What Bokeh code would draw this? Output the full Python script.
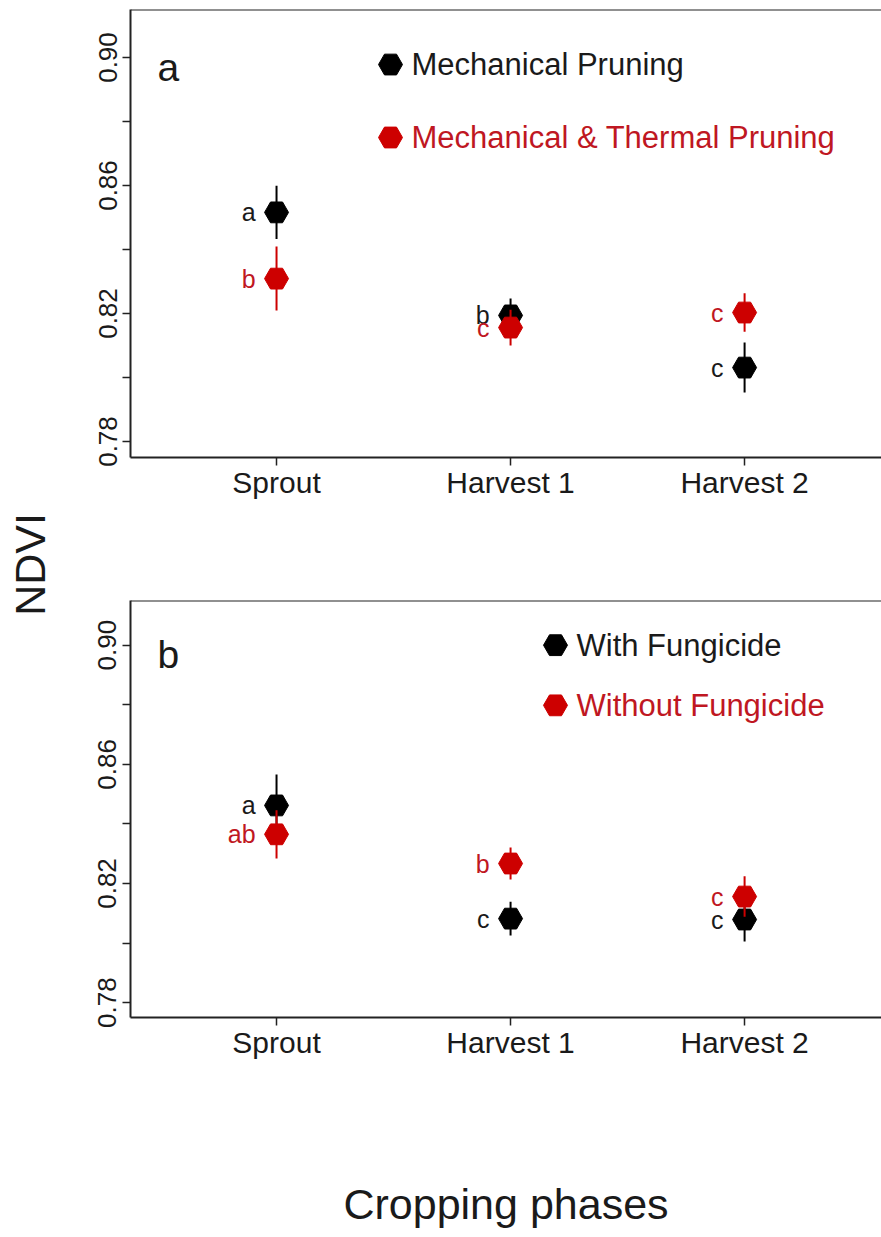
from math import pi
from bokeh.plotting import figure
from bokeh.models import Range1d, FixedTicker, Span, Label, ColumnDataSource
from bokeh.layouts import row, column
from bokeh.core.properties import value
from bokeh.embed import file_html
from bokeh.resources import INLINE

# ---------------- data ----------------
phases = ["Sprout", "Harvest 1", "Harvest 2"]

# panel a
mech_mean = [0.8516, 0.8194, 0.8031]
mech_err = [0.0083, 0.0053, 0.0078]
mech_letters = ["a", "b", "c"]
mt_mean = [0.8309, 0.8156, 0.8203]
mt_err = [0.0100, 0.0056, 0.0060]
mt_letters = ["b", "c", "c"]

# panel b
withf_mean = [0.8462, 0.8082, 0.8079]
withf_err = [0.0104, 0.0057, 0.0074]
withf_letters = ["a", "c", "c"]
nof_mean = [0.8365, 0.8267, 0.8156]
nof_err = [0.0081, 0.0054, 0.0068]
nof_letters = ["ab", "b", "c"]

y_major = [0.78, 0.82, 0.86, 0.90]
y_minor = [0.80, 0.84, 0.88]

series_names = {
    "a": ["Mechanical Pruning", "Mechanical & Thermal Pruning"],
    "b": ["With Fungicide", "Without Fungicide"],
}

# ---------------- style ----------------
FONT = "Liberation Sans"
RED = "#CD0000"
RED_TXT = "#BF1722"
BLACK = "#000000"
TXT = "#1a1a1a"

xs = list(range(1, len(phases) + 1))


def make_panel(tag, series, legend_x, legend_ys, frame_h, top, bottom, xlabel=None):
    p = figure(frame_width=751, frame_height=frame_h,
               x_range=Range1d(0.376, 3.585), y_range=Range1d(0.775, 0.915),
               output_backend="svg", toolbar_location=None,
               min_border_left=62, min_border_right=0,
               min_border_top=top, min_border_bottom=bottom)
    p.outline_line_color = None
    p.xgrid.visible = False
    p.ygrid.visible = False
    p.background_fill_color = "white"

    for ax in (p.xaxis[0], p.yaxis[0]):
        ax.axis_line_width = 2
        ax.axis_line_color = "#222222"
        ax.major_tick_line_width = 1.5
        ax.major_tick_line_color = "#222222"
        ax.major_tick_out = 8
        ax.major_tick_in = 0
        ax.major_label_text_font = FONT
        ax.major_label_text_color = TXT
    p.xaxis.ticker = FixedTicker(ticks=xs)
    p.xaxis.major_label_overrides = {x: lab for x, lab in zip(xs, phases)}
    p.xaxis.major_label_text_font_size = "30px"
    p.xaxis.major_label_standoff = 0
    p.xaxis.minor_tick_line_color = None

    p.yaxis.ticker = FixedTicker(ticks=y_major, minor_ticks=y_minor)
    p.yaxis.major_label_overrides = {v: f"{v:.2f}" for v in y_major}
    p.yaxis.major_label_orientation = "vertical"
    p.yaxis.major_label_text_font_size = "26px"
    p.yaxis.major_label_standoff = 6
    p.yaxis.minor_tick_out = 8
    p.yaxis.minor_tick_in = 0
    p.yaxis.minor_tick_line_width = 1.5
    p.yaxis.minor_tick_line_color = "#222222"

    if xlabel:
        p.xaxis.axis_label = xlabel
        p.xaxis.axis_label_text_font = FONT
        p.xaxis.axis_label_text_font_size = "43px"
        p.xaxis.axis_label_text_font_style = "normal"
        p.xaxis.axis_label_text_color = TXT
        p.xaxis.axis_label_standoff = 118

    p.add_layout(Span(location=0.915, dimension="width", line_color="#222222", line_width=2))

    for (mean, err, letters, color, tcol) in series:
        src = ColumnDataSource(dict(x=xs, y=mean,
                                    lo=[m - e for m, e in zip(mean, err)],
                                    hi=[m + e for m, e in zip(mean, err)],
                                    lab=letters))
        p.segment(x0="x", y0="lo", x1="x", y1="hi", source=src,
                  line_color=color, line_width=2)
        p.scatter(x="x", y="y", source=src, marker="hex", size=24,
                  fill_color=color, line_color=color)
        p.text(x="x", y="y", text="lab", source=src, x_offset=-21,
               text_align="right", text_baseline="middle",
               text_font=value(FONT), text_font_size="25px", text_color=tcol)

    for (mean, err, letters, color, tcol), ly, name in zip(series, legend_ys, series_names[tag]):
        p.scatter(x=[legend_x], y=[ly], marker="hex", size=24,
                  fill_color=color, line_color=color)
        p.text(x=[legend_x], y=[ly], text=[name], x_offset=21,
               text_align="left", text_baseline="middle",
               text_font=value(FONT), text_font_size="31px", text_color=tcol)

    p.add_layout(Label(x=0.4915, y=0.897, text=tag, text_font=FONT,
                       text_font_size="39px", text_baseline="middle",
                       text_align="left", text_color=TXT))
    return p


pa = make_panel("a",
                [(mech_mean, mech_err, mech_letters, BLACK, TXT),
                 (mt_mean, mt_err, mt_letters, RED, RED_TXT)],
                1.487, [0.8978, 0.875], 448, 9, 133)
pb = make_panel("b",
                [(withf_mean, withf_err, withf_letters, BLACK, TXT),
                 (nof_mean, nof_err, nof_letters, RED, RED_TXT)],
                2.192, [0.900, 0.8798], 417, 10, 40, xlabel="Cropping phases")

H = 1229
pl = figure(width=68, height=H, x_range=Range1d(0, 68), y_range=Range1d(0, H),
            output_backend="svg", toolbar_location=None, min_border=0)
pl.axis.visible = False
pl.grid.visible = False
pl.outline_line_color = None
pl.add_layout(Label(x=29, y=H - 564, text="NDVI", angle=pi / 2, text_font=FONT,
                    text_font_size="43px", text_align="center",
                    text_baseline="middle", text_color=TXT))

layout = row(pl, column(pa, pb))
open("out.html", "w").write(file_html(layout, INLINE))
